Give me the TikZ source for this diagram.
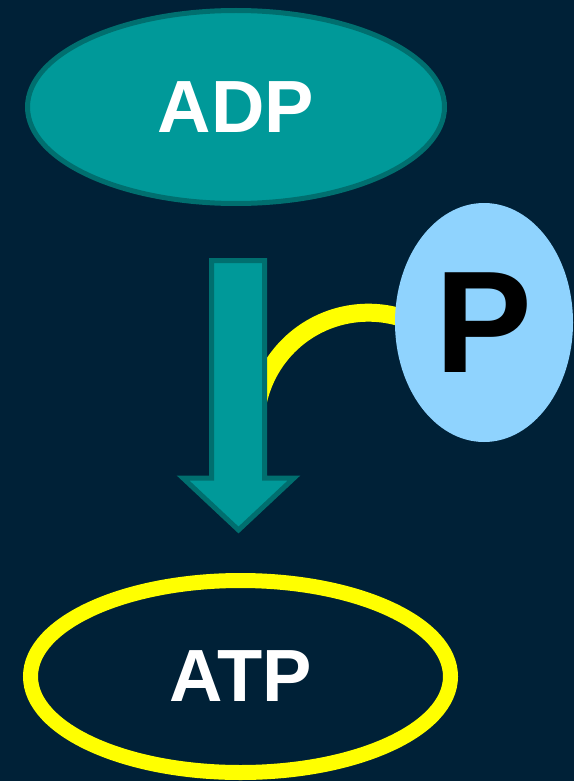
\documentclass[tikz,border=0pt]{standalone}
\usepackage{fontspec}
\setmainfont{Liberation Sans}
\usetikzlibrary{shapes.geometric,calc}
\definecolor{navy}{HTML}{002137}
\definecolor{tealfill}{HTML}{009999}
\definecolor{tealedge}{HTML}{006F6F}
\definecolor{phosblue}{HTML}{8FD3FE}
\definecolor{linkyellow}{RGB}{255,255,0}
\pgfdeclarelayer{back}
\pgfsetlayers{back,main}

\begin{document}
\begin{tikzpicture}[x=1pt, y=-1pt, line join=miter,
  molecule/.style={ellipse, inner sep=0pt, font=\fontsize{74}{74}\selectfont\bfseries, text=white},
  link/.style={linkyellow, line width=18pt}]
  \useasboundingbox (0,0) rectangle (574,781);
  \begin{pgfonlayer}{back}
    \fill[navy] (0,0) rectangle (574,781);
  \end{pgfonlayer}

  \node[molecule, fill=tealfill, draw=tealedge, line width=5pt, minimum width=417pt, minimum height=193pt] (ADP) at (236,107) {ADP};
  \node[molecule, draw=linkyellow, line width=15pt, minimum width=420pt, minimum height=192pt] (ATP) at (240.5,676.5) {ATP};
  \node[ellipse, fill=phosblue, inner sep=0pt, minimum width=178pt, minimum height=239pt, font=\fontsize{145}{145}\selectfont\bfseries] (P) at (484,322.5) {P};

  % phosphate joins the reaction
  \begin{pgfonlayer}{back}
    \draw[link] ($(P.center)+(-77,-3)$) arc[start angle=-70, end angle=-170, radius=113];
  \end{pgfonlayer}

  % block arrow
  \filldraw[fill=tealfill, draw=tealedge, line width=5pt] (211.5,260.5) -- (264.5,260.5) -- (264.5,478) -- (294,478) -- (238.5,530) -- (183,478) -- (211.5,478) -- cycle;
\end{tikzpicture}
\end{document}
